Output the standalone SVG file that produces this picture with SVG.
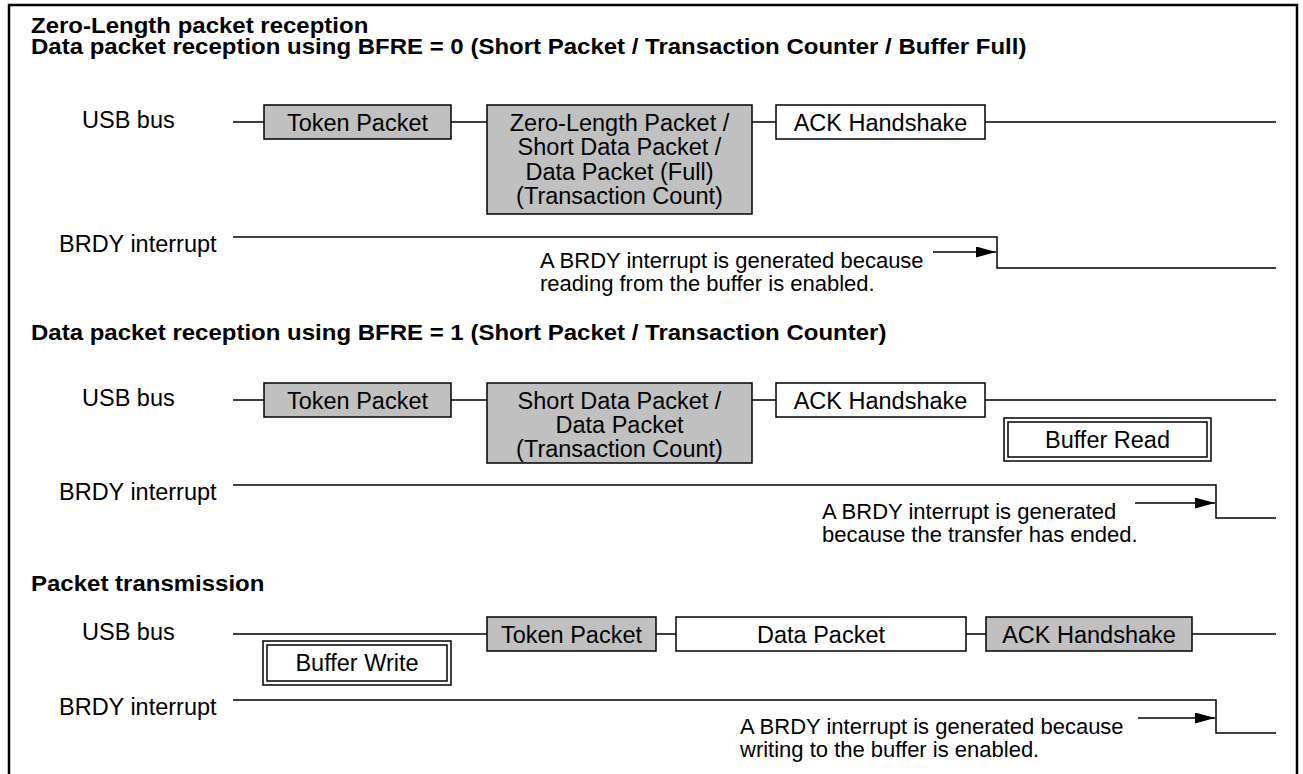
<svg xmlns="http://www.w3.org/2000/svg" width="1303" height="774" viewBox="0 0 1303 774">
<defs>
<style>
text{font-family:"Liberation Sans",Arial,sans-serif;font-size:23.5px;fill:#000}
.h{font-weight:bold;font-size:24px}
.n{font-size:22px}
.m{text-anchor:middle}
.box{stroke:#000;stroke-width:1.5}
.g{fill:#c0c0c0}
.w{fill:#fff}
.ln{stroke:#000;stroke-width:1.5;fill:none}
</style>
<marker id="ah" viewBox="0 0 20 11" refX="20" refY="5.5" markerWidth="20" markerHeight="11" markerUnits="userSpaceOnUse" orient="auto"><path d="M0,0 L20,5.5 L0,11 z" fill="#000"/></marker>
</defs>
<rect width="1303" height="774" fill="#fff"/>
<rect x="9" y="5" width="1288" height="790" fill="none" stroke="#000" stroke-width="2.5"/>

<g id="titles">
<text class="h" transform="matrix(1,0,0,0.9,31,33)">Zero-Length packet reception</text>
<text class="h" transform="matrix(1,0,0,0.9,31,54)">Data packet reception using BFRE = 0 (Short Packet / Transaction Counter / Buffer Full)</text>
<text class="h" transform="matrix(1,0,0,0.9,31,340)">Data packet reception using BFRE = 1 (Short Packet / Transaction Counter)</text>
<text class="h" transform="matrix(1,0,0,0.9,31,591)">Packet transmission</text>
</g>

<g id="labels">
<text x="82" y="128">USB bus</text>
<text x="59" y="252">BRDY interrupt</text>
<text x="82" y="406">USB bus</text>
<text x="59" y="500">BRDY interrupt</text>
<text x="82" y="640">USB bus</text>
<text x="59" y="715">BRDY interrupt</text>
</g>

<g id="connectors">
<path class="ln" d="M233,122H264 M451,122H487 M752,122H776 M985,122H1276"/>
<path class="ln" d="M233,237H997V268H1276"/>
<path class="ln" d="M933,252H996" marker-end="url(#ah)"/>
<path class="ln" d="M233,400H264 M451,400H487 M752,400H776 M985,400H1276"/>
<path class="ln" d="M233,485H1216V518H1276"/>
<path class="ln" d="M1135,503H1215" marker-end="url(#ah)"/>
<path class="ln" d="M233,634H487 M656,634H676 M966,634H986 M1192,634H1276"/>
<path class="ln" d="M233,700H1216V733H1276"/>
<path class="ln" d="M1138,718H1215" marker-end="url(#ah)"/>
</g>

<g id="s1-token"><rect class="box g" x="264" y="105" width="187" height="34"/><text class="m" x="357.5" y="131">Token Packet</text></g>
<g id="s1-data"><rect class="box g" x="487" y="105" width="265" height="109"/>
<text class="m" x="619.5" y="131">Zero-Length Packet /</text>
<text class="m" x="619.5" y="155">Short Data Packet /</text>
<text class="m" x="619.5" y="179.5">Data Packet (Full)</text>
<text class="m" x="619.5" y="204">(Transaction Count)</text></g>
<g id="s1-ack"><rect class="box w" x="776" y="105" width="209" height="34"/><text class="m" x="880.5" y="131">ACK Handshake</text></g>
<g id="s1-note"><text class="n" x="540" y="268">A BRDY interrupt is generated because</text><text class="n" x="540" y="291">reading from the buffer is enabled.</text></g>

<g id="s2-token"><rect class="box g" x="264" y="383" width="187" height="34"/><text class="m" x="357.5" y="409">Token Packet</text></g>
<g id="s2-data"><rect class="box g" x="487" y="383" width="265" height="80"/>
<text class="m" x="619.5" y="409">Short Data Packet /</text>
<text class="m" x="619.5" y="433">Data Packet</text>
<text class="m" x="619.5" y="457">(Transaction Count)</text></g>
<g id="s2-ack"><rect class="box w" x="776" y="383" width="209" height="34"/><text class="m" x="880.5" y="409">ACK Handshake</text></g>
<g id="s2-read"><rect class="box w" x="1004" y="418" width="207" height="43"/><rect class="box w" x="1008" y="422" width="199" height="35" stroke-width="2"/><text class="m" x="1107.5" y="448">Buffer Read</text></g>
<g id="s2-note"><text class="n" x="822" y="519">A BRDY interrupt is generated</text><text class="n" x="822" y="542">because the transfer has ended.</text></g>

<g id="s3-token"><rect class="box g" x="487" y="617" width="169" height="34"/><text class="m" x="571.5" y="643">Token Packet</text></g>
<g id="s3-data"><rect class="box w" x="676" y="617" width="290" height="34"/><text class="m" x="821" y="643">Data Packet</text></g>
<g id="s3-ack"><rect class="box g" x="986" y="617" width="206" height="34"/><text class="m" x="1089" y="643">ACK Handshake</text></g>
<g id="s3-write"><rect class="box w" x="263" y="641" width="188" height="44"/><rect class="box w" x="267" y="645" width="180" height="36" stroke-width="2"/><text class="m" x="357" y="671">Buffer Write</text></g>
<g id="s3-note"><text class="n" x="740" y="734">A BRDY interrupt is generated because</text><text class="n" x="740" y="757">writing to the buffer is enabled.</text></g>
</svg>
